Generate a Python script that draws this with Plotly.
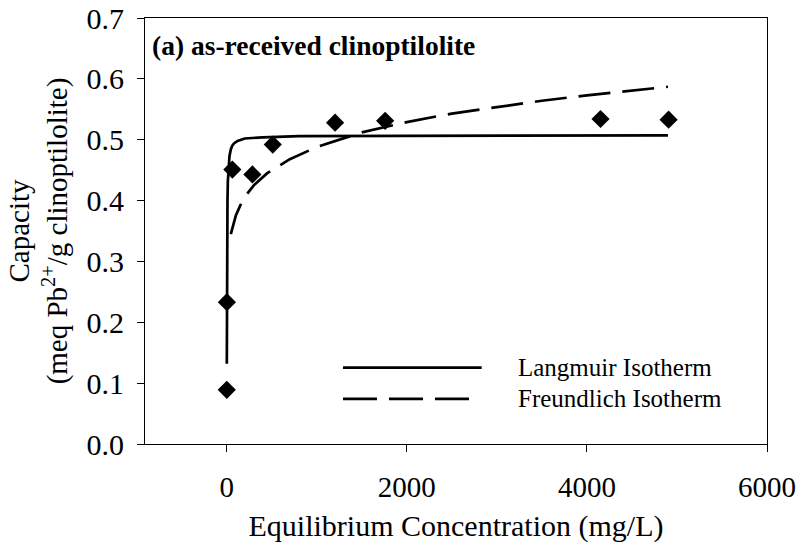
import plotly.graph_objects as go

conc = [0.3, 1.5, 62, 285, 511, 1203, 1759, 4151, 4907]
capacity = [0.089, 0.233, 0.451, 0.443, 0.492, 0.528, 0.531, 0.534, 0.533]

# Langmuir isotherm curve
lang_c = [0.75, 1.5, 3, 5, 8, 12, 20, 30, 45, 60, 80, 120, 200, 400, 800, 1500, 3000, 4900]
lang_q = [0.132, 0.210, 0.297, 0.356, 0.400, 0.431, 0.458, 0.473, 0.484, 0.490, 0.494,
          0.498, 0.502, 0.504, 0.506, 0.506, 0.507, 0.507]

# Freundlich isotherm curve
freu_c = [45, 70, 100, 150, 220, 300, 450, 700, 1000, 1500, 2000, 2500, 3000, 3500, 4000, 4500, 4900]
freu_q = [0.345, 0.361, 0.375, 0.392, 0.410, 0.425, 0.445, 0.468, 0.488, 0.512, 0.529,
          0.543, 0.554, 0.564, 0.573, 0.581, 0.587]

x_ticks = [0, 2000, 4000, 6000]
y_ticks = [0.0, 0.1, 0.2, 0.3, 0.4, 0.5, 0.6, 0.7]

FONT = "Liberation Serif"

fig = go.Figure()
fig.add_trace(go.Scatter(x=lang_c, y=lang_q, mode="lines", name="Langmuir Isotherm",
                         line=dict(color="black", width=2.7), showlegend=False))
fig.add_trace(go.Scatter(x=freu_c, y=freu_q, mode="lines", name="Freundlich Isotherm",
                         line=dict(color="black", width=2.7, dash="32px,12px"), showlegend=False))
fig.add_trace(go.Scatter(x=conc, y=capacity, mode="markers", name="Data",
                         marker=dict(symbol="diamond", size=14, color="black"), showlegend=False))

# Legend drawn manually (long line samples as in the original)
legend_items = [("Langmuir Isotherm", "solid", 0.5413, 0.1795),
                ("Freundlich Isotherm", "34px,12px", 0.5225, 0.1061)]
for label, dash, xend, yy in legend_items:
    fig.add_shape(type="line", xref="paper", yref="paper", x0=0.3183, x1=xend, y0=yy, y1=yy,
                  line=dict(color="black", width=2.7, dash=dash))
    fig.add_annotation(text=label, xref="paper", yref="paper", x=0.5976, y=yy,
                       xanchor="left", yanchor="middle", showarrow=False, borderpad=0,
                       font=dict(family=FONT, size=25, color="black"))

fig.add_annotation(text="<b>(a) as-received clinoptilolite</b>", xref="paper", yref="paper",
                   x=0.0096, y=0.935, xanchor="left", yanchor="middle", showarrow=False,
                   borderpad=0, font=dict(family=FONT, size=27.5, color="black"))

fig.update_xaxes(range=[-908, 6000], tickvals=x_ticks, ticktext=[str(v) for v in x_ticks],
                 ticks="outside", ticklen=7, tickcolor="black", showgrid=False, zeroline=False,
                 showline=True, linecolor="black", linewidth=1, mirror=True,
                 ticklabelstandoff=10,
                 tickfont=dict(family=FONT, size=29, color="black"),
                 title=dict(text="Equilibrium Concentration (mg/L)", standoff=13,
                            font=dict(family=FONT, size=30, color="black")))
fig.update_yaxes(range=[0, 0.7], tickvals=y_ticks, ticktext=[f"{v:.1f}" for v in y_ticks],
                 ticks="outside", ticklen=7, tickcolor="black", showgrid=False, zeroline=False,
                 showline=True, linecolor="black", linewidth=1, mirror=True,
                 ticklabelstandoff=7,
                 tickfont=dict(family=FONT, size=30, color="black"),
                 title=dict(text="Capacity<br>(meq Pb<sup>2+</sup>/g clinoptilolite)", standoff=10,
                            font=dict(family=FONT, size=29, color="black")))

fig.update_layout(width=804, height=548, margin=dict(l=145, r=37, t=18, b=104, autoexpand=False),
                  paper_bgcolor="white", plot_bgcolor="white", font=dict(family=FONT, color="black"))

fig.write_html("out.html", config={"displayModeBar": False},
               post_script="document.body.style.margin='0';")
